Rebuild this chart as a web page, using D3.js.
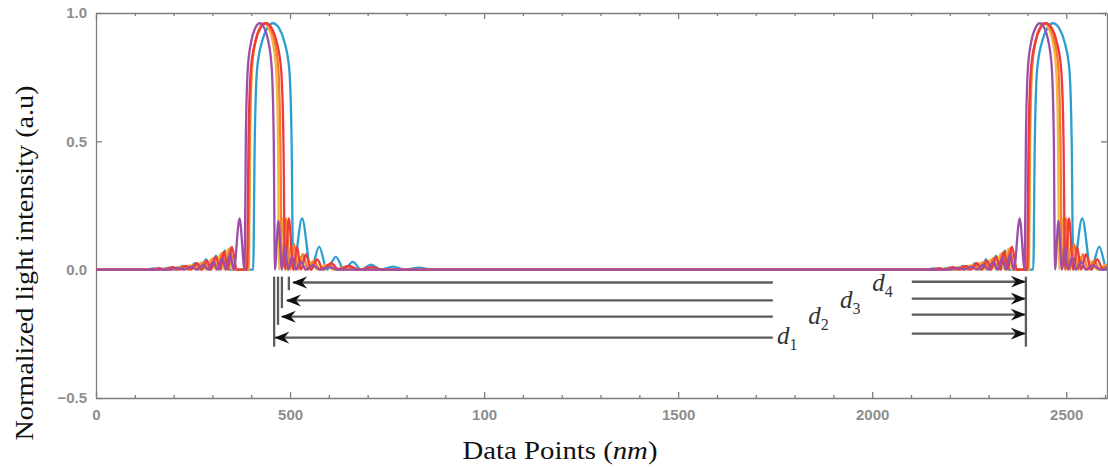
<!DOCTYPE html>
<html>
<head>
<meta charset="utf-8">
<script src="https://cdn.jsdelivr.net/npm/d3@7"></script>
<style>
  body { margin: 0; background: #fff; }
  .axis path, .axis line { stroke: #7d7d7d; stroke-width: 1.3; }
  .axis text { fill: #8e8e8e; font-family: "Liberation Sans Narrow", "Liberation Sans", Arial, sans-serif; font-size: 15px; font-weight: bold; }
  .yaxis text { font-family: "Liberation Sans", Arial, sans-serif; font-size: 15px; }
  .series { fill: none; stroke-width: 2.3; stroke-linejoin: round; }
  .arrow { stroke: #5c5c5c; stroke-width: 2.3; }
  .dlabel { font-family: "Liberation Serif", serif; font-style: italic; font-size: 25px; fill: #333; }
  .title { font-family: "Liberation Serif", "Times New Roman", serif; fill: #111; }
</style>
</head>
<body>
<div id="chart"></div>
<script>
const width = 1108;
const height = 468;

// x tick values and the labels as printed on the figure (the "100" is in the original)
const xTicks = [0, 500, 1000, 1500, 2000, 2500];
const xTickLabels = ["0", "500", "100", "1500", "2000", "2500"];
const xMinorTicks = [100, 200, 300, 400, 600, 700, 800, 900, 1100, 1200, 1300, 1400,
  1600, 1700, 1800, 1900, 2100, 2200, 2300, 2400, 2600];
const yTicks = [-0.5, 0, 0.5, 1];

const seriesNames = ["blue", "yellow", "orange", "red", "purple"];
const seriesColors = ["#2b9fd1", "#f4b942", "#f57d2c", "#ee3a3d", "#9c4ea8"];

// [data point, normalized intensity]
const blue = [[0,0],[129,0],[147,0.005],[168,0],[188,0.008],[206,0],[224,0.015],[240,0],[255,0.025],[271,0],[283,0.04],[296,0],[309,0.055],[322,0],[332,0.075],[343,0],
  [405,0],[409,0.5],[415,0.78],[428,0.89],[441,0.94],[456,0.96],[472,0.94],[485,0.89],[498,0.78],[504,0.5],[508,0],
  [531,0.2],[554,0],[575,0.09],[595,0],[618,0.05],[639,0],[662,0.03],[683,0],[709,0.02],[734,0],[765,0.012],[796,0],[832,0.008],[868,0],
  [2139,0],[2157,0.005],[2178,0],[2198,0.008],[2216,0],[2234,0.015],[2250,0],[2265,0.025],[2281,0],[2293,0.04],[2306,0],[2319,0.055],[2332,0],[2342,0.075],[2353,0],
  [2415,0],[2419,0.5],[2425,0.78],[2438,0.89],[2451,0.94],[2466,0.96],[2482,0.94],[2495,0.89],[2508,0.78],[2514,0.5],[2518,0],
  [2541,0.2],[2564,0],[2585,0.09],[2605,0],[2628,0.05]];

const yellow = [[0,0],[196,0],[211,0.01],[227,0],[242,0.018],[258,0],[271,0.028],[283,0],[296,0.04],[309,0],[320,0.06],[330,0],[340,0.08],[350,0],
  [394,0],[397,0.5],[402,0.78],[411,0.89],[421,0.94],[433,0.96],[445,0.94],[455,0.89],[464,0.78],[469,0.5],[472,0],
  [482,0.2],[492,0],[502,0.09],[513,0],[526,0.05],[539,0],[554,0.03],[570,0],[590,0.018],[611,0],
  [2206,0],[2221,0.01],[2237,0],[2252,0.018],[2268,0],[2281,0.028],[2293,0],[2306,0.04],[2319,0],[2330,0.06],[2340,0],[2350,0.08],[2360,0],
  [2404,0],[2407,0.5],[2412,0.78],[2421,0.89],[2431,0.94],[2443,0.96],[2455,0.94],[2465,0.89],[2474,0.78],[2479,0.5],[2482,0],
  [2492,0.2],[2502,0],[2512,0.09],[2523,0],[2536,0.05],[2549,0],[2564,0.03],[2580,0],[2600,0.018],[2621,0]];

const orange = [[0,0],[173,0],[188,0.007],[206,0],[222,0.012],[237,0],[253,0.02],[265,0],[278,0.03],[291,0],[302,0.045],[314,0],[325,0.065],[335,0],[345,0.085],[356,0],
  [392,0],[396,0.5],[401,0.78],[411,0.89],[422,0.94],[435,0.96],[449,0.94],[460,0.89],[470,0.78],[475,0.5],[479,0],
  [490,0.2],[500,0],[510,0.1],[521,0],[533,0.06],[546,0],[562,0.035],[577,0],[598,0.02],[618,0],[644,0.012],[670,0],
  [2183,0],[2198,0.007],[2216,0],[2232,0.012],[2247,0],[2263,0.02],[2275,0],[2288,0.03],[2301,0],[2312,0.045],[2324,0],[2335,0.065],[2345,0],[2355,0.085],[2366,0],
  [2402,0],[2406,0.5],[2411,0.78],[2421,0.89],[2432,0.94],[2445,0.96],[2459,0.94],[2470,0.89],[2480,0.78],[2485,0.5],[2489,0],
  [2500,0.2],[2510,0],[2520,0.1],[2531,0],[2543,0.06],[2556,0],[2572,0.035],[2587,0],[2608,0.02],[2628,0]];

const red = [[0,0],[145,0],[162,0.006],[180,0],[198,0.01],[214,0],[232,0.015],[245,0],[260,0.025],[273,0],[286,0.035],[296,0],[309,0.05],[320,0],[330,0.07],[340,0],[350,0.09],[363,0],
  [389,0],[393,0.5],[399,0.78],[411,0.89],[423,0.94],[438,0.96],[453,0.94],[465,0.89],[477,0.78],[483,0.5],[487,0],
  [497,0.2],[508,0],[518,0.09],[528,0],[541,0.06],[554,0],[570,0.04],[585,0],[606,0.025],[626,0],[652,0.015],[678,0],[709,0.01],[740,0],
  [2155,0],[2172,0.006],[2190,0],[2208,0.01],[2224,0],[2242,0.015],[2255,0],[2270,0.025],[2283,0],[2296,0.035],[2306,0],[2319,0.05],[2330,0],[2340,0.07],[2350,0],[2360,0.09],[2373,0],
  [2399,0],[2403,0.5],[2409,0.78],[2421,0.89],[2433,0.94],[2448,0.96],[2463,0.94],[2475,0.89],[2487,0.78],[2493,0.5],[2497,0],
  [2507,0.2],[2518,0],[2528,0.09],[2538,0],[2551,0.06],[2564,0],[2580,0.04],[2595,0],[2616,0.025]];

const purple = [[0,0],[193,0],[209,0.007],[227,0],[245,0.012],[260,0],[276,0.02],[289,0],[302,0.03],[313,0],[325,0.045],[335,0],[345,0.06],[355,0],[370,0.2],
  [383,0],[386,0.5],[391,0.78],[400,0.89],[410,0.94],[422,0.96],[434,0.94],[444,0.89],[453,0.78],[458,0.5],[461,0],
  [470,0.19],[479,0],[487,0.09],[495,0],[505,0.05],[515,0],[528,0.03],[541,0],[559,0.018],[577,0],[600,0.01],[624,0],
  [2203,0],[2219,0.007],[2237,0],[2255,0.012],[2270,0],[2286,0.02],[2299,0],[2312,0.03],[2323,0],[2335,0.045],[2345,0],[2355,0.06],[2365,0],[2380,0.2],
  [2393,0],[2396,0.5],[2401,0.78],[2410,0.89],[2420,0.94],[2432,0.96],[2444,0.94],[2454,0.89],[2463,0.78],[2468,0.5],[2471,0],
  [2480,0.19],[2489,0],[2497,0.09],[2505,0],[2515,0.05],[2525,0],[2538,0.03],[2551,0],[2569,0.018],[2587,0],[2610,0.01]];

const seriesData = [blue, yellow, orange, red, purple];

// distance annotation (data units)
const dLabels = ["1", "2", "3", "4"];
const leftLineX = [459, 469, 479, 497];       // short vertical markers at the first peak
const leftLineBottom = [-0.30, -0.215, -0.15, -0.08];
const leftArrowY = [-0.265, -0.183, -0.12, -0.05];
const leftArrowTip = [462, 479, 492, 508];
const leftArrowTail = 1744;
const rightLineX = 2396;
const rightArrowY = [-0.249, -0.175, -0.113, -0.047];
const rightArrowTail = 2102;
const rightArrowTip = 2393;
const markTop = -0.027;
const markBottom = -0.30;
const dLabelX = [1755, 1835, 1917, 2000];
const dLabelY = [-0.288, -0.21, -0.148, -0.082];

const margin = { top: 13, right: 1, bottom: 70, left: 96 };

const svg = d3.select("#chart").append("svg")
  .attr("width", width)
  .attr("height", height);

const x = d3.scaleLinear()
  .domain([0, 2605])
  .range([margin.left, width - margin.right]);

const y = d3.scaleLinear()
  .domain([-0.5, 1])
  .range([height - margin.bottom, margin.top]);

svg.append("defs").append("clipPath")
  .attr("id", "plotclip")
  .append("rect")
  .attr("x", x.range()[0])
  .attr("y", y.range()[1])
  .attr("width", x.range()[1] - x.range()[0])
  .attr("height", y.range()[0] - y.range()[1]);

const marker = svg.select("defs").append("marker")
  .attr("id", "head")
  .attr("markerUnits", "userSpaceOnUse")
  .attr("viewBox", "0 -7 16 14")
  .attr("refX", 14)
  .attr("refY", 0)
  .attr("markerWidth", 16)
  .attr("markerHeight", 14)
  .attr("orient", "auto");
marker.append("path")
  .attr("d", "M0,-6 L15,0 L0,6 L5,0 Z")
  .attr("fill", "#111");

// axes (ticks point inward)
svg.append("g")
  .attr("class", "axis")
  .attr("transform", `translate(0,${y(-0.5)})`)
  .call(d3.axisBottom(x).tickValues(xTicks).tickSizeInner(-6).tickSizeOuter(0).tickPadding(11)
    .tickFormat((d, i) => xTickLabels[i]));

svg.append("g")
  .attr("class", "axis")
  .attr("transform", `translate(0,${y(-0.5)})`)
  .call(d3.axisBottom(x).tickValues(xMinorTicks).tickSizeInner(-3).tickSizeOuter(0).tickFormat(""))
  .select(".domain").remove();

svg.append("g")
  .attr("class", "axis")
  .attr("transform", `translate(0,${y(1)})`)
  .call(d3.axisTop(x).tickValues(xTicks).tickSizeInner(-6).tickSizeOuter(0).tickFormat(""));

svg.append("g")
  .attr("class", "axis")
  .attr("transform", `translate(0,${y(1)})`)
  .call(d3.axisTop(x).tickValues(xMinorTicks).tickSizeInner(-3).tickSizeOuter(0).tickFormat(""))
  .select(".domain").remove();

svg.append("g")
  .attr("class", "axis yaxis")
  .attr("transform", `translate(${x(0)},0)`)
  .call(d3.axisLeft(y).tickValues(yTicks).tickSizeInner(-6).tickSizeOuter(0).tickPadding(9)
    .tickFormat(d3.format(".1f")));

svg.append("g")
  .attr("class", "axis")
  .attr("transform", `translate(${x(2605)},0)`)
  .call(d3.axisRight(y).tickValues(yTicks).tickSizeInner(-6).tickSizeOuter(0).tickFormat(""));

// curves
const line = d3.line()
  .x(d => x(d[0]))
  .y(d => y(d[1]))
  .curve(d3.curveMonotoneX);

svg.append("g")
  .attr("clip-path", "url(#plotclip)")
  .selectAll("path.series")
  .data(seriesData)
  .enter()
  .append("path")
  .attr("class", (d, i) => `series ${seriesNames[i]}`)
  .attr("stroke", (d, i) => seriesColors[i])
  .attr("d", line);

// distance arrows
const ann = svg.append("g");

ann.selectAll("line.lmark")
  .data(leftLineX)
  .enter()
  .append("line")
  .attr("class", "arrow")
  .attr("x1", d => x(d))
  .attr("x2", d => x(d))
  .attr("y1", y(markTop))
  .attr("y2", (d, i) => y(leftLineBottom[i]));

ann.append("line")
  .attr("class", "arrow")
  .attr("x1", x(rightLineX))
  .attr("x2", x(rightLineX))
  .attr("y1", y(markTop))
  .attr("y2", y(markBottom));

ann.selectAll("line.larrow")
  .data(leftArrowY)
  .enter()
  .append("line")
  .attr("class", "arrow")
  .attr("x1", x(leftArrowTail))
  .attr("x2", (d, i) => x(leftArrowTip[i]))
  .attr("y1", d => y(d))
  .attr("y2", d => y(d))
  .attr("marker-end", "url(#head)");

ann.selectAll("line.rarrow")
  .data(rightArrowY)
  .enter()
  .append("line")
  .attr("class", "arrow")
  .attr("x1", x(rightArrowTail))
  .attr("x2", x(rightArrowTip))
  .attr("y1", d => y(d))
  .attr("y2", d => y(d))
  .attr("marker-end", "url(#head)");

const dl = ann.selectAll("text.dlabel")
  .data(dLabels)
  .enter()
  .append("text")
  .attr("class", "dlabel")
  .attr("x", (d, i) => x(dLabelX[i]))
  .attr("y", (d, i) => y(dLabelY[i]));
dl.append("tspan").text("d");
dl.append("tspan")
  .attr("dy", 6)
  .style("font-style", "normal")
  .style("font-size", "16px")
  .text(d => d);

// axis titles
svg.append("text")
  .attr("class", "title")
  .attr("transform", `translate(24,${263}) rotate(-90)`)
  .attr("text-anchor", "middle")
  .attr("dominant-baseline", "central")
  .attr("textLength", 355)
  .attr("lengthAdjust", "spacingAndGlyphs")
  .style("font-size", "25px")
  .text("Normalized light intensity (a.u)");

const xt = svg.append("text")
  .attr("class", "title")
  .attr("x", 560)
  .attr("y", 459)
  .attr("text-anchor", "middle")
  .attr("textLength", 195)
  .attr("lengthAdjust", "spacingAndGlyphs")
  .style("font-size", "25px");
xt.append("tspan").text("Data Points (");
xt.append("tspan").style("font-style", "italic").text("nm");
xt.append("tspan").text(")");
</script>
</body>
</html>
